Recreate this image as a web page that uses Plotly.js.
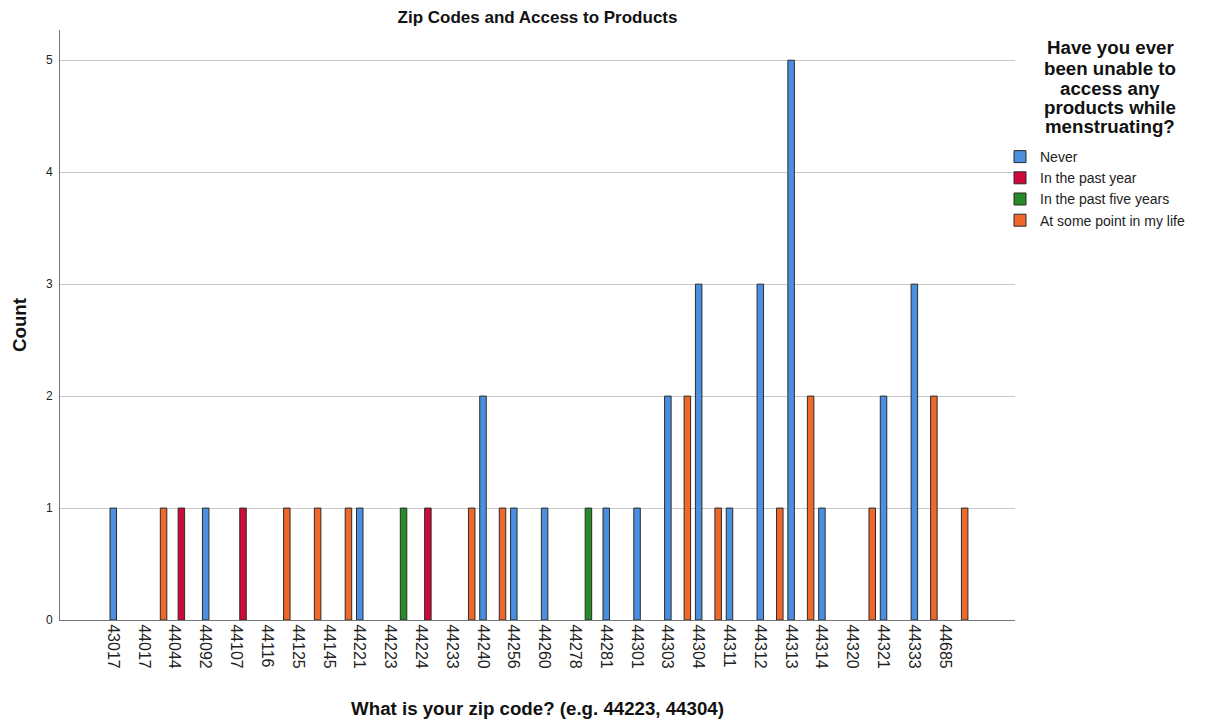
<!DOCTYPE html>
<html>
<head>
<meta charset="utf-8">
<script src="https://cdn.plot.ly/plotly-3.0.1.min.js"></script>
<style>html,body{margin:0;padding:0;background:#fff;}#chart{width:1211px;height:722px;}</style>
</head>
<body>
<div id="chart"></div>
<script>
const zipCodes = ["43017","44017","44044","44092","44107","44116","44125","44145","44221","44223","44224","44233","44240","44256","44260","44278","44281","44301","44303","44304","44311","44312","44313","44314","44320","44321","44333","44685"];
const never        = [1,0,0,1,0,0,0,0,1,0,0,0,2,1,1,0,1,1,2,3,1,3,5,1,0,2,3,0];
const pastYear     = [0,0,1,0,1,0,0,0,0,0,1,0,0,0,0,0,0,0,0,0,0,0,0,0,0,0,0,0];
const pastFive     = [0,0,0,0,0,0,0,0,0,1,0,0,0,0,0,1,0,0,0,0,0,0,0,0,0,0,0,0];
const somePoint    = [0,1,0,0,0,1,1,1,0,0,0,1,1,0,0,0,0,0,2,1,0,1,2,0,1,0,2,1];
const seriesNames  = ["Never","In the past year","In the past five years","At some point in my life"];
const seriesColors = ["#4a8fe0","#d1083a","#268a26","#f0672a"];
const seriesValues = [never, pastYear, pastFive, somePoint];
const legendTitleLines = ["Have you ever","been unable to","access any","products while","menstruating?"];

const idx = zipCodes.map((_, i) => i);
const traces = seriesValues.map((vals, k) => ({
  type: "bar",
  x: idx,
  y: vals.map(v => (v === 0 ? null : v)),
  name: seriesNames[k],
  marker: {color: seriesColors[k], line: {color: "#2b2b2b", width: 1}},
  hoverinfo: "x+y+name"
}));

const font = "Liberation Sans, Arial, sans-serif";
const legendTitleY = [48, 68, 88, 107, 127];
const annotations = legendTitleLines.map((t, i) => ({
  text: "<b>" + t + "</b>",
  xref: "paper", yref: "paper",
  x: (1110 - 60) / 955, y: (620 - legendTitleY[i]) / 590,
  xanchor: "center", yanchor: "middle",
  showarrow: false,
  font: {family: font, size: 18.7, color: "#111"}
}));

const layout = {
  width: 1211, height: 722,
  paper_bgcolor: "#fff", plot_bgcolor: "#fff",
  margin: {l: 60, r: 196, t: 30, b: 102},
  barmode: "group",
  bargap: 0.156,
  bargroupgap: 0,
  font: {family: font, color: "#222"},
  title: {text: "<b>Zip Codes and Access to Products</b>", font: {family: font, size: 17, color: "#111"},
          x: 0.5, xref: "paper", xanchor: "center", y: 0.977, yref: "container", yanchor: "middle"},
  xaxis: {
    type: "linear",
    range: [-2.045, 28.95],
    tickmode: "array",
    tickvals: idx,
    ticktext: zipCodes,
    tickangle: 90,
    ticklabelshift: -10,
    tickfont: {family: font, size: 16, color: "#222"},
    ticks: "",
    showgrid: false,
    zeroline: false,
    showline: true, linecolor: "#777", linewidth: 1,
    title: {text: "<b>What is your zip code? (e.g. 44223, 44304)</b>", font: {family: font, size: 18.7, color: "#111"}, standoff: 34},
    automargin: false,
    fixedrange: true
  },
  yaxis: {
    range: [0, 5.27],
    tickvals: [0,1,2,3,4,5],
    tickfont: {family: font, size: 12, color: "#222"},
    ticks: "",
    ticklabelstandoff: 4,
    showgrid: true, gridcolor: "#c8c8c8", gridwidth: 1,
    zeroline: false,
    showline: true, linecolor: "#777", linewidth: 1,
    title: {text: "<b>Count</b>", font: {family: font, size: 18.7, color: "#111"}, standoff: 14},
    automargin: false,
    fixedrange: true
  },
  legend: {
    x: (1000 - 60) / 955, xref: "paper", xanchor: "left",
    y: (620 - 141) / 590, yref: "paper", yanchor: "top",
    font: {family: font, size: 14, color: "#222"},
    itemwidth: 30,
    tracegroupgap: 0,
    bgcolor: "rgba(0,0,0,0)"
  },
  annotations: annotations,
  showlegend: true
};

Plotly.newPlot("chart", traces, layout, {displayModeBar: false, staticPlot: true});
</script>
</body>
</html>
